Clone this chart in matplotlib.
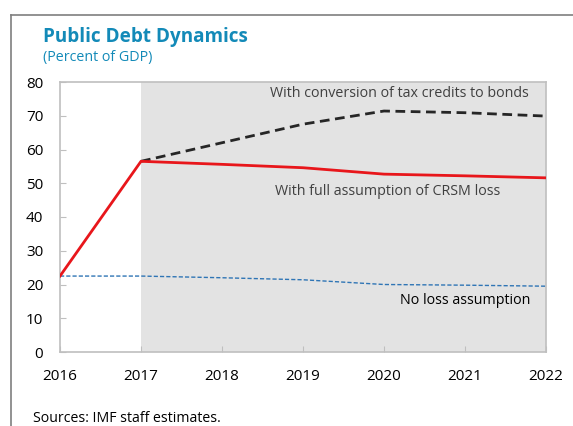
import matplotlib.pyplot as plt
from matplotlib.lines import Line2D

years = [2016, 2017, 2018, 2019, 2020, 2021, 2022]
full_loss = [22.5, 56.5, 55.6, 54.6, 52.7, 52.2, 51.6]
tax_credits = [None, 56.5, 62.0, 67.5, 71.4, 70.9, 69.9]
no_loss = [22.5, 22.5, 22.0, 21.4, 20.0, 19.8, 19.5]
y_ticks = [0, 10, 20, 30, 40, 50, 60, 70, 80]

plt.rcParams['font.family'] = ['Open Sans', 'DejaVu Sans']

fig = plt.figure(figsize=(5.73, 4.26), dpi=100)
ax = fig.add_axes([60 / 573, 1 - 352 / 426, 486 / 573, 270 / 426])

# projection period shaded
ax.axvspan(2017, 2022, color='#e3e3e3', zorder=0, lw=0)

tc_x = [y for y, v in zip(years, tax_credits) if v is not None]
tc_y = [v for v in tax_credits if v is not None]
ax.plot(tc_x, tc_y, color='#262626', lw=2.0, ls=(0, (3.5, 2)), zorder=3)
ax.plot(years, full_loss, color='#e8161b', lw=2.0, zorder=4)
ax.plot(years, no_loss, color='#2f75b5', lw=1.0, ls=(0, (3, 1.5)), zorder=2)

ax.set_xlim(2016, 2022)
ax.set_ylim(0, 80)
ax.set_yticks(y_ticks)
ax.set_xticks(years)
ax.tick_params(axis='both', direction='in', length=4, color='#bfbfbf',
               labelsize=11, labelcolor='#000000')
ax.tick_params(axis='y', pad=12)
ax.tick_params(axis='x', pad=12)
for s in ax.spines.values():
    s.set_color('#bfbfbf')
    s.set_linewidth(1.2)

ax.text(2020.19, 76.5, 'With conversion of tax credits to bonds', ha='center',
        va='center', fontsize=10.3, color='#404040')
ax.text(2020.04, 47.7, 'With full assumption of CRSM loss', ha='center',
        va='center', fontsize=10.3, color='#404040')
ax.text(2021.0, 15.2, 'No loss assumption', ha='center', va='center',
        fontsize=10.3, color='#000000')

fig.text(43 / 573, 1 - 37 / 426, 'Public Debt Dynamics', fontsize=13.6,
         fontweight='bold', color='#138ab8', va='center', ha='left')
fig.text(43 / 573, 1 - 58 / 426, '(Percent of GDP)', fontsize=10.3,
         color='#138ab8', va='center', ha='left')
fig.text(33 / 573, 1 - 418 / 426, 'Sources: IMF staff estimates.', fontsize=10.2,
         color='#000000', va='center', ha='left')

# outer frame lines (top and left)
fig.add_artist(Line2D([11 / 573, 1], [1 - 15 / 426] * 2, color='#7f7f7f', lw=1.2,
                      transform=fig.transFigure))
fig.add_artist(Line2D([11 / 573] * 2, [0, 1 - 15 / 426], color='#7f7f7f', lw=1.2,
                      transform=fig.transFigure))

fig.savefig('out.png', dpi=100)
